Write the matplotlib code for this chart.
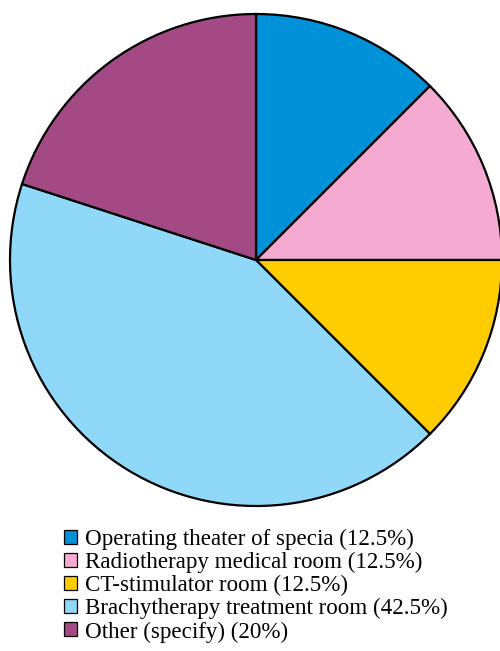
import matplotlib.pyplot as plt
from matplotlib.patches import Patch

# datos del gráfico
etiquetas = ['Operating theater of specia', 'Radiotherapy medical room',
             'CT-stimulator room', 'Brachytherapy treatment room', 'Other (specify)']
valores = [12.5, 12.5, 12.5, 42.5, 20]
textos_pct = ['12.5%', '12.5%', '12.5%', '42.5%', '20%']
colores = ['#0091D9', '#F5ABD1', '#FFCC00', '#8FD8F7', '#A34A84']

plt.rcParams['font.family'] = ['Liberation Serif', 'DejaVu Serif']

fig = plt.figure(figsize=(5.0, 6.51), dpi=100)
ax = fig.add_axes([10 / 500, 145 / 651, 492 / 500, 492 / 651])

ax.pie(valores, colors=colores, startangle=90, counterclock=False,
       wedgeprops=dict(edgecolor='black', linewidth=1.6))
ax.set_xlim(-1.0, 1.0)
ax.set_ylim(-1.0, 1.0)
ax.set_aspect('equal')
ax.axis('off')

manejadores = [Patch(facecolor=c, edgecolor='black', linewidth=0.9) for c in colores]
leyendas = [f'{e} ({p})' for e, p in zip(etiquetas, textos_pct)]
fig.legend(manejadores, leyendas, loc='upper left',
           bbox_to_anchor=(55 / 500, 1 - 520 / 651),
           frameon=False, fontsize=16.6, handlelength=0.55, handleheight=0.55,
           handletextpad=0.35, labelspacing=0.08, borderaxespad=0)

fig.savefig('out.png', dpi=100)
